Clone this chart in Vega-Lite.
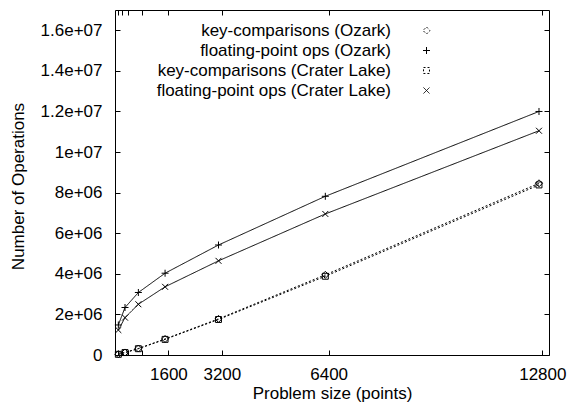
{
  "$schema": "https://vega.github.io/schema/vega-lite/v6.json",
  "autosize": "none",
  "width": 434,
  "height": 345,
  "padding": {"left": 115, "top": 10, "right": 20, "bottom": 49},
  "background": "white",
  "config": {
    "font": "Liberation Sans",
    "view": {"stroke": "black", "strokeWidth": 1},
    "axis": {"grid": false, "domain": false, "tickColor": "black", "labelColor": "black", "titleColor": "black", "labelFontSize": 17, "titleFontSize": 17, "titleFontWeight": "normal", "labelFont": "Liberation Sans", "titleFont": "Liberation Sans"},
    "legend": {"orient": "none", "legendX": 303, "legendY": 12, "title": null, "padding": 0, "rowPadding": 2,
      "symbolSize": 49, "symbolStrokeWidth": 1, "symbolStrokeColor": "black", "symbolFillColor": "transparent", "symbolOffset": 0,
      "labelAlign": "right", "labelOffset": -44, "labelFontSize": 17, "labelFont": "Liberation Sans", "labelColor": "black", "labelLimit": 400}
  },
  "data": {"values": [
    {"series": "key-comparisons (Ozark)", "size": 100, "ops": 35000},
    {"series": "key-comparisons (Ozark)", "size": 300, "ops": 125000},
    {"series": "key-comparisons (Ozark)", "size": 700, "ops": 320000},
    {"series": "key-comparisons (Ozark)", "size": 1500, "ops": 790000},
    {"series": "key-comparisons (Ozark)", "size": 3100, "ops": 1780000},
    {"series": "key-comparisons (Ozark)", "size": 6300, "ops": 3950000},
    {"series": "key-comparisons (Ozark)", "size": 12700, "ops": 8460000},
    {"series": "floating-point ops (Ozark)", "size": 100, "ops": 1480000},
    {"series": "floating-point ops (Ozark)", "size": 300, "ops": 2340000},
    {"series": "floating-point ops (Ozark)", "size": 700, "ops": 3080000},
    {"series": "floating-point ops (Ozark)", "size": 1500, "ops": 4030000},
    {"series": "floating-point ops (Ozark)", "size": 3100, "ops": 5420000},
    {"series": "floating-point ops (Ozark)", "size": 6300, "ops": 7820000},
    {"series": "floating-point ops (Ozark)", "size": 12700, "ops": 12000000},
    {"series": "key-comparisons (Crater Lake)", "size": 100, "ops": 33000},
    {"series": "key-comparisons (Crater Lake)", "size": 300, "ops": 120000},
    {"series": "key-comparisons (Crater Lake)", "size": 700, "ops": 310000},
    {"series": "key-comparisons (Crater Lake)", "size": 1500, "ops": 770000},
    {"series": "key-comparisons (Crater Lake)", "size": 3100, "ops": 1750000},
    {"series": "key-comparisons (Crater Lake)", "size": 6300, "ops": 3880000},
    {"series": "key-comparisons (Crater Lake)", "size": 12700, "ops": 8380000},
    {"series": "floating-point ops (Crater Lake)", "size": 100, "ops": 1230000},
    {"series": "floating-point ops (Crater Lake)", "size": 300, "ops": 1840000},
    {"series": "floating-point ops (Crater Lake)", "size": 700, "ops": 2500000},
    {"series": "floating-point ops (Crater Lake)", "size": 1500, "ops": 3360000},
    {"series": "floating-point ops (Crater Lake)", "size": 3100, "ops": 4640000},
    {"series": "floating-point ops (Crater Lake)", "size": 6300, "ops": 6950000},
    {"series": "floating-point ops (Crater Lake)", "size": 12700, "ops": 11050000}
  ]},
  "resolve": {"axis": {"x": "independent", "y": "independent"}},
  "layer": [
    {
      "mark": {"type": "line", "color": "black", "strokeWidth": 1},
      "encoding": {
        "x": {"field": "size", "type": "quantitative", "scale": {"domain": [0, 13000], "nice": false, "zero": false},
          "axis": {"orient": "bottom", "values": [100, 200, 400, 800, 1600, 3200, 6400, 12800], "labelExpr": "datum.value >= 1600 ? datum.label : ''", "format": "d", "tickSize": -5, "labelPadding": 16, "labelFlush": false, "labelOverlap": false, "title": "Problem size (points)", "titleX": 217, "titleY": 38, "titleBaseline": "middle", "titleAlign": "center"}},
        "y": {"field": "ops", "type": "quantitative", "scale": {"domain": [0, 17000000], "nice": false},
          "axis": {"orient": "left", "values": [0, 2000000, 4000000, 6000000, 8000000, 10000000, 12000000, 14000000, 16000000], "labelExpr": "datum.value == 0 ? '0' : replace(format(datum.value, '.2~e'), 'e+', 'e+0')", "tickSize": -5, "labelPadding": 18, "labelFlush": false, "labelOverlap": false, "title": "Number of Operations", "titleX": -97, "titleY": 176, "titleAngle": -90, "titleBaseline": "middle", "titleAlign": "center"}},
        "detail": {"field": "series"},
        "strokeDash": {"field": "series", "type": "nominal",
          "scale": {"domain": ["key-comparisons (Ozark)", "floating-point ops (Ozark)", "key-comparisons (Crater Lake)", "floating-point ops (Crater Lake)"], "range": [[2, 2], [1, 0], [2, 2], [1, 0]]},
          "legend": {"orient": "none", "legendX": 303, "legendY": 12, "title": null}
        }
      }
    },
    {
      "mark": {"type": "point", "filled": false, "color": "black", "strokeWidth": 1, "size": 49, "opacity": 1},
      "encoding": {
        "x": {"field": "size", "type": "quantitative",
          "axis": {"orient": "top", "values": [100, 200, 400, 800, 1600, 3200, 6400, 12800], "labels": false, "tickSize": -5, "title": null}},
        "y": {"field": "ops", "type": "quantitative",
          "axis": {"orient": "right", "values": [0, 2000000, 4000000, 6000000, 8000000, 10000000, 12000000, 14000000, 16000000], "labels": false, "tickSize": -5, "title": null}},
        "shape": {"field": "series", "type": "nominal",
          "scale": {"domain": ["key-comparisons (Ozark)", "floating-point ops (Ozark)", "key-comparisons (Crater Lake)", "floating-point ops (Crater Lake)"],
            "range": ["M0,-1L1,0L0,1L-1,0Z", "M-1,0H1M0,-1V1", "M-0.85,-0.85H0.85V0.85H-0.85Z", "M-0.85,-0.85L0.85,0.85M-0.85,0.85L0.85,-0.85"]},
          "legend": {"orient": "none", "legendX": 303, "legendY": 12, "title": null}
        }
      }
    }
  ]
}
